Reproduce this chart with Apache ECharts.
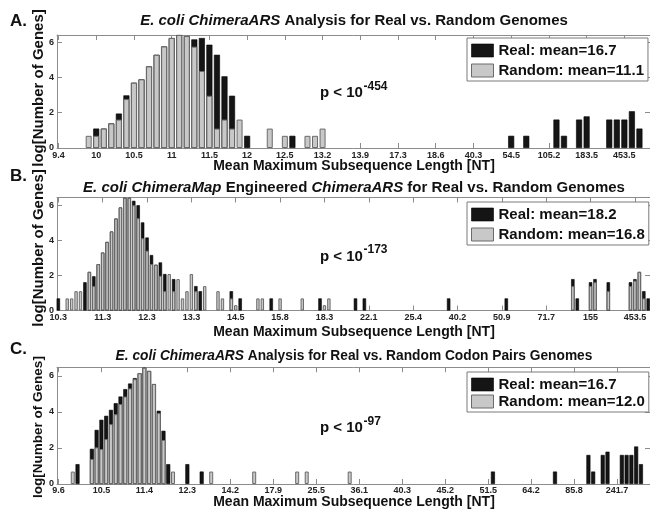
<!DOCTYPE html>
<html><head><meta charset="utf-8">
<script src="https://cdn.jsdelivr.net/npm/echarts@6/dist/echarts.min.js"></script>
<style>html,body{margin:0;padding:0;background:#fff}#c{width:650px;height:510px}</style>
</head><body><div id="c"></div>
<script>
// ---------------- DATA ----------------
// Panel A
const ticksA = ['9.4','10','10.5','11','11.5','12','12.5','13.2','13.9','17.3','18.6','40.3','54.5','105.2','183.5','453.5'];
const binsPerTickA = 5;
const randomA = [
  0,0,0,0,0.69,0.69,1.10,1.39,1.61,2.77,
  3.70,3.89,4.62,5.28,5.75,6.23,6.40,6.34,5.74,4.36,
  2.96,1.10,1.61,1.10,1.61,0,0,0,1.10,0,
  0.69,0,0,0.69,0.69,1.10,0,0,0,0,
  0,0,0,0,0,0,0,0,0,0,
  0,0,0,0,0,0,0,0,0,0,
  0,0,0,0,0,0,0,0,0,0,
  0,0,0,0,0,0,0,0];
const realA = [
  0,0,0,0,0,1.10,1.10,1.39,1.95,2.98,
  3.70,3.89,4.62,5.28,5.75,6.23,6.40,6.34,6.15,6.23,
  5.85,5.28,4.06,2.96,0,0.69,0,0,0,0,
  0,0.69,0,0,0,0,0,0,0,0,
  0,0,0,0,0,0,0,0,0,0,
  0,0,0,0,0,0,0,0,0,0,
  0.69,0,0.69,0,0,0,1.61,0.69,0,1.61,
  1.79,0,0,1.61,1.61,1.61,2.08,1.10];
const legendA = ['Real: mean=16.7', 'Random: mean=11.1'];
const titleA = '{i|E. coli ChimeraARS} Analysis for Real vs. Random Genomes';
const pA = '-454';

// Panel B
const ticksB = ['10.3','11.3','12.3','13.3','14.5','15.8','18.3','22.1','25.4','40.2','50.9','71.7','155','453.5'];
const binsPerTickB = 10;
const randomB = [
  0,0,0.69,0.69,1.10,1.10,0,2.20,1.39,2.64,
  3.30,3.91,4.50,5.24,5.87,6.42,6.42,6.00,5.26,4.12,
  3.41,2.65,2.61,1.98,1.10,2.08,1.10,1.79,0.69,1.10,
  2.08,1.10,0,1.39,0,0,1.10,0.69,0,0.69,
  0.30,0,0,0,0,0.69,0.69,0,0,0,
  0.69,0,0,0,0,0.69,0,0,0,0,
  0.30,0.69,0,0,0,0,0,0,0,0,
  0,0,0,0,0,0,0,0,0,0,
  0,0,0,0,0,0,0,0,0,0,
  0,0,0,0,0,0,0,0,0,0,
  0,0,0,0,0,0,0,0,0,0,
  0,0,0,0,0,0,1.39,0,0,0,
  1.39,1.61,0,0,1.10,0,0,0,0,1.39,
  1.70,2.20,0.69,0];
const realB = [
  0.69,0,0,0,0,0,1.61,2.20,1.95,2.64,
  3.30,3.91,4.50,5.24,5.87,6.42,6.42,6.25,6.00,5.02,
  4.16,3.16,2.61,2.74,2.08,0,1.79,0,0,0,
  0,1.39,1.10,0,0,0,0,0,0,1.10,
  0,0.69,0,0,0,0,0,0,0.69,0,
  0,0,0,0,0,0,0,0,0,0.69,
  0,0,0,0,0,0,0,0.69,0,0.69,
  0,0,0,0,0,0,0,0,0,0,
  0,0,0,0,0,0,0,0,0.69,0,
  0,0,0,0,0,0,0,0,0,0,
  0,0.69,0,0,0,0,0,0,0,0,
  0,0,0,0,0,0,1.79,0.69,0,0,
  1.61,1.79,0,0,1.61,0,0,0,0,1.61,
  1.79,2.20,1.10,0.69];
const legendB = ['Real: mean=18.2', 'Random: mean=16.8'];
const titleB = '{i|E. coli ChimeraMap} Engineered {i|ChimeraARS} for Real vs. Random Genomes';
const pB = '-173';

// Panel C
const ticksC = ['9.6','10.5','11.4','12.3','14.2','17.9','25.5','36.1','40.3','45.2','51.5','64.2','85.8','241.7'];
const binsPerTickC = 9;
const randomC = [
  0,0,0,0.69,0,0,0,1.39,2.03,1.94,
  2.49,3.32,3.87,4.43,4.85,5.30,5.81,6.14,6.45,6.27,
  5.54,3.93,2.44,0,0.69,0,0,0,0,0,
  0,0,0.69,0,0,0,0,0,0,0,
  0,0.69,0,0,0,0,0,0,0,0,
  0.69,0,0.69,0,0,0,0,0,0,0,
  0,0.69,0,0,0,0,0,0,0,0,
  0,0,0,0,0,0,0,0,0,0,
  0,0,0,0,0,0,0,0,0,0,
  0,0,0,0,0,0,0,0,0,0,
  0,0,0,0,0,0,0,0,0,0,
  0,0,0,0,0,0,0,0,0,0,
  0,0,0,0];
const realC = [
  0,0,0,0,1.10,0,0,1.95,3.00,3.56,
  3.78,4.11,4.48,4.85,5.26,5.57,5.87,6.14,6.45,6.27,
  5.54,4.06,2.95,1.10,0,0,0,1.10,0,0,
  0.69,0,0,0,0,0,0,0,0,0,
  0,0,0,0,0,0,0,0,0,0,
  0,0,0,0,0,0,0,0,0,0,
  0,0,0,0,0,0,0,0,0,0,
  0,0,0,0,0,0,0,0,0,0,
  0,0,0,0,0,0,0,0,0,0,
  0,0.69,0,0,0,0,0,0,0,0,
  0,0,0,0,0.69,0,0,0,0,0,
  0,1.61,0.69,0,1.61,1.79,0,0,1.61,1.61,
  1.61,2.08,1.10,0];
const legendC = ['Real: mean=16.7', 'Random: mean=12.0'];
const titleC = '{i|E. coli ChimeraARS} Analysis for Real vs. Random Codon Pairs Genomes';
const pC = '-97';

const yTicks = [0, 2, 4, 6];
const xName = 'Mean Maximum Subsequence Length [NT]';
const yName = 'log[Number of Genes]';

// ---------------- LAYOUT / STYLE ----------------
const FONT = '"Liberation Sans", Arial, Helvetica, sans-serif';
const panels = [
  {letter:'A.', ticks:ticksA, step:binsPerTickA, real:realA, random:randomA, legend:legendA, title:titleA, p:pA},
  {letter:'B.', ticks:ticksB, step:binsPerTickB, real:realB, random:randomB, legend:legendB, title:titleB, p:pB},
  {letter:'C.', ticks:ticksC, step:binsPerTickC, real:realC, random:randomC, legend:legendC, title:titleC, p:pC}
];
const lay = [
  {top:35, height:113, xmin:-0.2, xmax:78.4, ymax:6.40, barW:6, legTop:38, legGap:5, titleY:21, titleFs:15, letterY:21, pY:93, supY:87, xNameY:166.5, yNameY:88, yNameFs:15, lblMargin:3},
  {top:197.5, height:113, xmin:-0.3, xmax:133.4, ymax:6.44, barW:3.4, legTop:202, legGap:5, titleY:188.3, titleFs:15, letterY:176, pY:256.5, supY:250, xNameY:332, yNameY:248, yNameFs:15, lblMargin:3},
  {top:367.3, height:116.7, xmin:-0.3, xmax:123.9, ymax:6.47, barW:4, legTop:372, legGap:2, titleY:356.5, titleFs:13.75, letterY:349, pY:427.5, supY:422, xNameY:502.5, yNameY:427, yNameFs:13.5, lblMargin:2}
];

const axisLineStyle = {color:'#8c8c8c', width:1};
const option = {animation:false, grid:[], xAxis:[], yAxis:[], series:[], legend:[], graphic:[]};
const toData = arr => arr.map((v, i) => [i, v]).filter(d => d[1] > 0);

panels.forEach((d, i) => {
  const L = lay[i];
  option.grid.push({left:57, top:L.top, width:596, height:L.height});
  const tickVals = d.ticks.map((_, k) => k * d.step);
  const baseX = {gridIndex:i, type:'value', min:L.xmin, max:L.xmax, splitLine:{show:false},
    axisLine:{show:true, onZero:false, lineStyle:axisLineStyle},
    axisTick:{show:true, inside:true, length:5, customValues:tickVals, lineStyle:axisLineStyle}};
  option.xAxis.push(Object.assign({}, baseX, {position:'bottom',
    axisLabel:{show:true, customValues:tickVals, margin:L.lblMargin, fontSize:9, fontWeight:'bold', color:'#222', fontFamily:FONT,
      formatter: v => { const k = Math.round(v / d.step); return d.ticks[k] !== undefined ? d.ticks[k] : ''; }}}));
  option.xAxis.push(Object.assign({}, baseX, {position:'top', axisLabel:{show:false}}));
  const baseY = {gridIndex:i, type:'value', min:0, max:L.ymax, splitLine:{show:false},
    axisLine:{show:true, onZero:false, lineStyle:axisLineStyle},
    axisTick:{show:true, inside:true, length:5, customValues:yTicks, lineStyle:axisLineStyle}};
  option.yAxis.push(Object.assign({}, baseY, {position:'left',
    axisLabel:{show:true, customValues:yTicks, margin:3, fontSize:9, fontWeight:'bold', color:'#222', fontFamily:FONT}}));
  option.yAxis.push(Object.assign({}, baseY, {position:'right', axisLabel:{show:false}}));

  const realStyle = {color:'#151515', borderColor:'#000', borderWidth:0.6};
  const randStyle = {color:'#c8c8c8', borderColor:'#6b6b6b', borderWidth:1};
  option.series.push({type:'bar', name:d.legend[0], xAxisIndex:2*i, yAxisIndex:2*i, barWidth:L.barW, barGap:'-100%',
    data:toData(d.real), itemStyle:realStyle, silent:true});
  option.series.push({type:'bar', name:d.legend[1], xAxisIndex:2*i, yAxisIndex:2*i, barWidth:L.barW, barGap:'-100%',
    data:toData(d.random), itemStyle:randStyle, silent:true});

  option.legend.push({orient:'vertical', left:467, top:L.legTop, itemWidth:22, itemHeight:13, itemGap:L.legGap,
    icon:'rect', padding:[5,4,3,4], borderColor:'#7a7a7a', borderWidth:1, backgroundColor:'#fff', selectedMode:false,
    textStyle:{fontSize:15, fontWeight:'bold', color:'#111', fontFamily:FONT},
    data:[{name:d.legend[0], itemStyle:realStyle}, {name:d.legend[1], itemStyle:randStyle}]});

  // texts
  option.graphic.push({type:'text', x:10, y:L.letterY, style:{text:d.letter, fontSize:17, fontWeight:'bold', fontFamily:FONT, fill:'#111', align:'left', verticalAlign:'middle'}});
  option.graphic.push({type:'text', x:354, y:L.titleY, style:{text:d.title, fontSize:L.titleFs, fontWeight:'bold', fontFamily:FONT, fill:'#111', align:'center', verticalAlign:'middle',
    rich:{i:{fontSize:L.titleFs, fontWeight:'bold', fontStyle:'italic', fontFamily:FONT, fill:'#111'}}}});
  option.graphic.push({type:'text', x:354, y:L.xNameY, style:{text:xName, fontSize:14, fontWeight:'bold', fontFamily:FONT, fill:'#111', align:'center', verticalAlign:'middle'}});
  option.graphic.push({type:'text', x:38.5, y:L.yNameY, rotation:Math.PI/2, style:{text:yName, fontSize:L.yNameFs, fontWeight:'bold', fontFamily:FONT, fill:'#111', align:'center', verticalAlign:'middle'}});
  option.graphic.push({type:'text', x:320, y:L.pY, style:{text:'p < 10', fontSize:15, fontWeight:'bold', fontFamily:FONT, fill:'#111', align:'left', verticalAlign:'middle'}});
  option.graphic.push({type:'text', x:363.5, y:L.supY, style:{text:d.p, fontSize:12, fontWeight:'bold', fontFamily:FONT, fill:'#111', align:'left', verticalAlign:'middle'}});
});

const chart = echarts.init(document.getElementById('c'), null, {renderer:'canvas'});
chart.setOption(option);
</script>
</body></html>
